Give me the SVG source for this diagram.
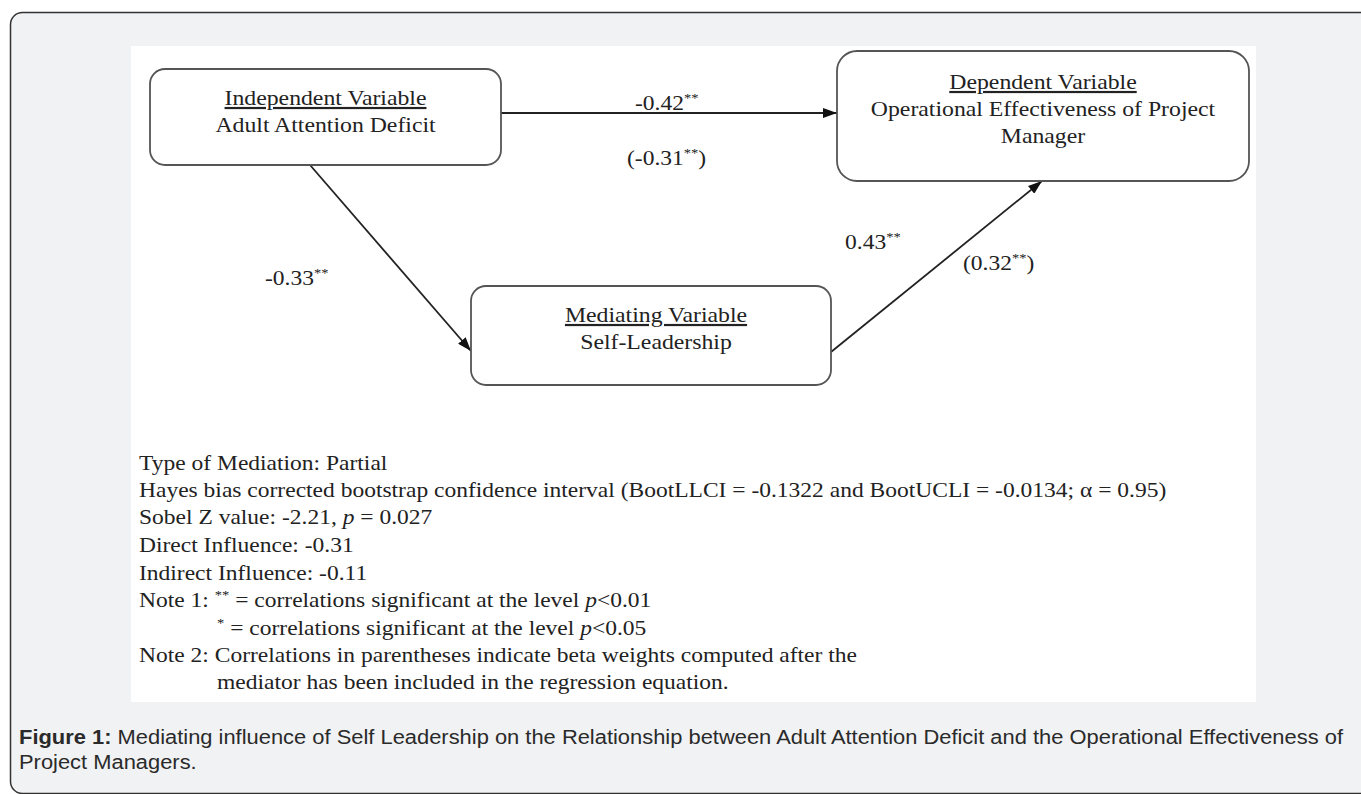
<svg xmlns="http://www.w3.org/2000/svg" width="1361" height="794" viewBox="0 0 1361 794">
<defs>
<marker id="ah" viewBox="0 0 14 10" refX="14" refY="5" markerWidth="14" markerHeight="10" markerUnits="userSpaceOnUse" orient="auto">
<path d="M0,0 L14,5 L0,10 Z" fill="#111"/>
</marker>
<style>
.node{fill:#fff;stroke:#555;stroke-width:1.8}
.nt{font-family:"Liberation Serif","Times New Roman",serif;font-size:22px;fill:#222;text-anchor:middle}
.ft{font-family:"Liberation Serif","Times New Roman",serif;font-size:21px;fill:#222}
.sup{font-size:13px}
.edge{stroke:#222;stroke-width:1.8;fill:none;marker-end:url(#ah)}
.cap{font-family:"Liberation Sans",Arial,sans-serif;font-size:20px;fill:#2a2a2a}
</style>
</defs>
<rect x="0" y="0" width="1361" height="794" fill="#fff"/>
<rect x="10.5" y="12.5" width="1380" height="781" rx="12" fill="#f1f2f4" stroke="#333" stroke-width="1.5"/>
<rect x="131" y="46" width="1125" height="656" fill="#fff"/>

<g id="connectors">
<line class="edge" x1="501" y1="113" x2="837" y2="113"/>
<line class="edge" x1="310" y1="165" x2="471" y2="351"/>
<line class="edge" x1="831" y1="352" x2="1042" y2="181"/>
<g class="ft">
<text transform="translate(635,110) scale(1.12,1)">-0.42<tspan class="sup" dy="-8">**</tspan></text>
<text transform="translate(627,165) scale(1.12,1)">(-0.31<tspan class="sup" dy="-8">**</tspan><tspan dy="8">)</tspan></text>
<text transform="translate(265,285) scale(1.12,1)">-0.33<tspan class="sup" dy="-8">**</tspan></text>
<text transform="translate(845,249) scale(1.12,1)">0.43<tspan class="sup" dy="-8">**</tspan></text>
<text transform="translate(963,270) scale(1.12,1)">(0.32<tspan class="sup" dy="-8">**</tspan><tspan dy="8">)</tspan></text>
</g>
</g>

<g id="node-independent">
<rect class="node" x="150" y="69" width="351" height="96" rx="15"/>
<text class="nt" transform="translate(325.5,105) scale(1.08,1)" text-decoration="underline">Independent Variable</text>
<text class="nt" transform="translate(325.5,132) scale(1.08,1)">Adult Attention Deficit</text>
</g>

<g id="node-dependent">
<rect class="node" x="837" y="51" width="412" height="130" rx="20"/>
<text class="nt" transform="translate(1043,89) scale(1.08,1)" text-decoration="underline">Dependent Variable</text>
<text class="nt" transform="translate(1043,116) scale(1.08,1)">Operational Effectiveness of Project</text>
<text class="nt" transform="translate(1043,143) scale(1.08,1)">Manager</text>
</g>

<g id="node-mediating">
<rect class="node" x="471" y="286" width="360" height="99" rx="15"/>
<text class="nt" transform="translate(656,322) scale(1.08,1)" text-decoration="underline">Mediating Variable</text>
<text class="nt" transform="translate(656,349) scale(1.08,1)">Self-Leadership</text>
</g>

<g id="notes" class="ft">
<text transform="translate(139,470) scale(1.12,1)">Type of Mediation: Partial</text>
<text transform="translate(139,497) scale(1.12,1)">Hayes bias corrected bootstrap confidence interval (BootLLCI = -0.1322 and BootUCLI = -0.0134; α = 0.95)</text>
<text transform="translate(139,524) scale(1.12,1)">Sobel Z value: -2.21, <tspan font-style="italic">p</tspan> = 0.027</text>
<text transform="translate(139,552) scale(1.12,1)">Direct Influence: -0.31</text>
<text transform="translate(139,580) scale(1.12,1)">Indirect Influence: -0.11</text>
<text transform="translate(139,607) scale(1.12,1)">Note 1: <tspan class="sup" dy="-8">**</tspan><tspan dy="8"> = correlations significant at the level </tspan><tspan font-style="italic">p</tspan>&lt;0.01</text>
<text transform="translate(217,635) scale(1.12,1)"><tspan class="sup" dy="-8">*</tspan><tspan dy="8">  = correlations significant at the level </tspan><tspan font-style="italic">p</tspan>&lt;0.05</text>
<text transform="translate(139,662) scale(1.12,1)">Note 2: Correlations in parentheses indicate beta weights computed after the</text>
<text transform="translate(217,689) scale(1.12,1)">mediator has been included in the regression equation.</text>
</g>

<g id="caption" class="cap">
<text transform="translate(19,744) scale(1.095,1)"><tspan font-weight="bold">Figure 1:</tspan> Mediating influence of Self Leadership on the Relationship between Adult Attention Deficit and the Operational Effectiveness of</text>
<text transform="translate(19,769) scale(1.095,1)">Project Managers.</text>
</g>
</svg>
